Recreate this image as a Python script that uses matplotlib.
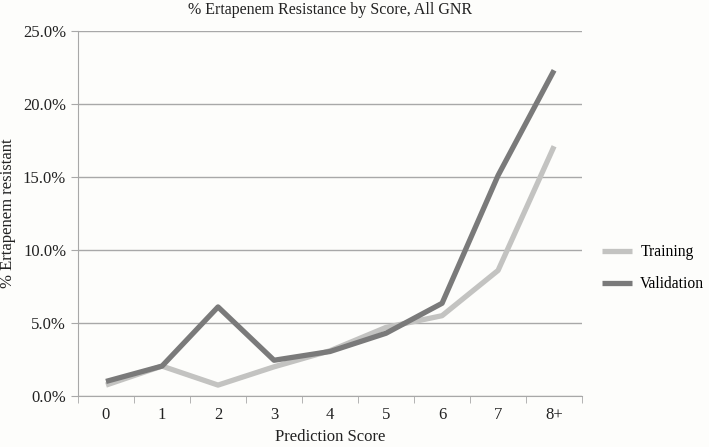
import matplotlib
matplotlib.use("Agg")
import matplotlib.pyplot as plt
from matplotlib.ticker import FuncFormatter, FixedLocator

plt.rcParams['font.family'] = ['Liberation Serif', 'DejaVu Serif']

scores = ["0", "1", "2", "3", "4", "5", "6", "7", "8+"]
training = [0.75, 2.05, 0.75, 2.0, 3.1, 4.7, 5.5, 8.6, 17.1]
validation = [1.0, 2.05, 6.1, 2.45, 3.05, 4.3, 6.35, 15.1, 22.3]

fig = plt.figure(figsize=(7.09, 4.47), dpi=100, facecolor='#fdfdfb')
ax = fig.add_axes([0.110, 0.114, 0.711, 0.817], facecolor='#fdfdfb')

x = list(range(len(scores)))
ax.plot(x, training, color='#c3c3c1', linewidth=3.8, label='Training', solid_capstyle='butt')
ax.plot(x, validation, color='#7a7a7a', linewidth=3.8, label='Validation', solid_capstyle='butt')

ax.set_xlim(-0.5, len(scores) - 0.5)
ax.set_ylim(0, 25)
ax.set_yticks([0, 5, 10, 15, 20, 25])
ax.yaxis.set_major_formatter(FuncFormatter(lambda v, p: f"{v:.1f}%"))
ax.yaxis.grid(True, color='#a8a8a8', linewidth=1)
ax.set_axisbelow(True)

ax.set_xticks(x)
ax.set_xticklabels(scores)
ax.xaxis.set_minor_locator(FixedLocator([i - 0.5 for i in range(len(scores) + 1)]))
ax.tick_params(axis='x', which='major', length=0, pad=8, labelsize=12, colors='#222222')
ax.tick_params(axis='x', which='minor', length=5, color='#a8a8a8')
ax.tick_params(axis='y', length=5, color='#a8a8a8', labelsize=12, labelcolor='#222222')

for s in ['top', 'right']:
    ax.spines[s].set_visible(False)
for s in ['left', 'bottom']:
    ax.spines[s].set_color('#a8a8a8')

ax.set_title("% Ertapenem Resistance by Score, All GNR", fontsize=11.5, color='#222222', pad=12)
ax.set_xlabel("Prediction Score", fontsize=12, color='#222222', labelpad=4)
ax.set_ylabel("% Ertapenem resistant", fontsize=12, color='#222222')
ax.yaxis.set_label_coords(-0.123, 0.5)

ax.legend(loc='center left', bbox_to_anchor=(1.012, 0.35), frameon=False, fontsize=11.2,
          handlelength=1.9, handletextpad=0.55, labelspacing=1.05)

fig.savefig("out.png", dpi=100, facecolor=fig.get_facecolor())
